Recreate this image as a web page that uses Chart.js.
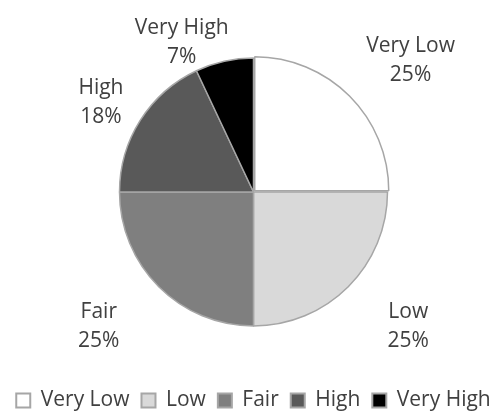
<!DOCTYPE html>
<html>
<head>
<meta charset="utf-8">
<script src="https://cdn.jsdelivr.net/npm/chart.js@4/dist/chart.umd.min.js"></script>
<style>
    html, body { margin: 0; padding: 0; background: #fff; }
    #wrap { width: 503px; height: 411px; }
</style>
</head>
<body>
<div id="wrap"><canvas id="pieChart"></canvas></div>
<script>
// ratings share (%)
const categories = ['Very Low', 'Low', 'Fair', 'High', 'Very High'];
const shares = [25, 25, 25, 18, 7];
const sliceColors = ['#ffffff', '#d9d9d9', '#7f7f7f', '#595959', '#000000'];

// where each outside label sits: radius multiple and angle shift (deg) from the slice middle
const labelPlacement = [
    { r: 1.53, shift: 5 },
    { r: 1.53, shift: -4 },
    { r: 1.53, shift: 4 },
    { r: 1.32, shift: -2 },
    { r: 1.24, shift: -13 }
];

const FONT = '"Open Sans", Lato, sans-serif';
const FONT_SIZE = 21;

// draws "name\npct%" outside each slice, like the office chart
const outsideLabels = {
    id: 'outsideLabels',
    afterDatasetsDraw(chart) {
        const { ctx } = chart;
        const meta = chart.getDatasetMeta(0);
        ctx.save();
        ctx.font = FONT_SIZE + 'px ' + FONT;
        ctx.fillStyle = '#404040';
        ctx.textAlign = 'center';
        ctx.textBaseline = 'middle';
        meta.data.forEach((arc, i) => {
            const p = arc.getProps(['x', 'y', 'startAngle', 'endAngle', 'outerRadius'], true);
            const place = labelPlacement[i];
            const mid = (p.startAngle + p.endAngle) / 2 + place.shift * Math.PI / 180;
            const dist = p.outerRadius * place.r;
            const x = p.x + Math.cos(mid) * dist;
            const y = p.y + Math.sin(mid) * dist;
            ctx.fillText(categories[i], x, y - 14);
            ctx.fillText(shares[i] + '%', x, y + 15);
        });
        ctx.restore();
    }
};

new Chart(document.getElementById('pieChart'), {
    type: 'pie',
    data: {
        labels: categories,
        datasets: [{
            data: shares,
            backgroundColor: sliceColors,
            borderColor: '#a6a6a6',
            borderWidth: 1.5,
            offset: [7, 0, 0, 0, 0],
            radius: 134
        }]
    },
    options: {
        responsive: true,
        maintainAspectRatio: false,
        animation: false,
        layout: { padding: { left: 4, right: 0, top: 6, bottom: -10 } },
        plugins: {
            tooltip: { enabled: false },
            legend: {
                position: 'bottom',
                labels: {
                    font: { family: FONT, size: FONT_SIZE },
                    color: '#404040',
                    boxWidth: 14,
                    boxHeight: 14,
                    padding: 12,
                    generateLabels(chart) {
                        return categories.map((c, i) => ({
                            text: c,
                            fillStyle: sliceColors[i],
                            strokeStyle: '#a6a6a6',
                            lineWidth: 2,
                            fontColor: '#404040',
                            index: i
                        }));
                    }
                }
            }
        }
    },
    plugins: [outsideLabels]
});
</script>
</body>
</html>
